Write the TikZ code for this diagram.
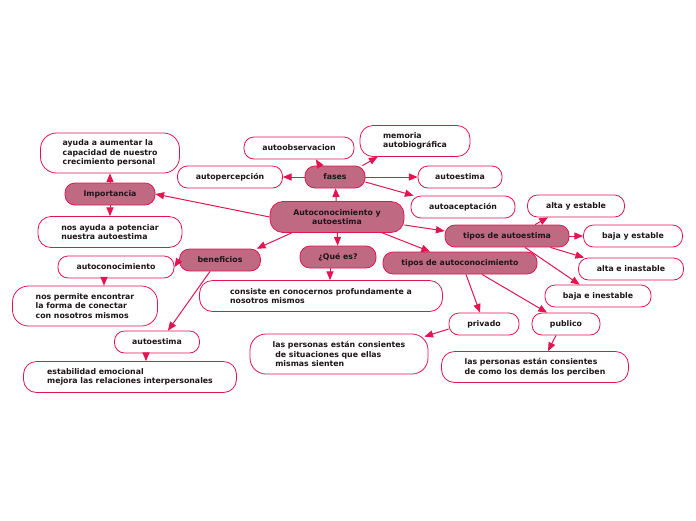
\documentclass[tikz,border=0pt]{standalone}
\usepackage{fontspec}
\setmainfont{DejaVu Sans}
\usepackage{tikz}
\usepackage{xcolor}
\usetikzlibrary{shapes,arrows,positioning}
\definecolor{edge}{RGB}{226, 20, 82}
\definecolor{mauve}{RGB}{191, 106, 130}
\definecolor{ink}{RGB}{30, 20, 25}
\tikzstyle{topic} = [
    rectangle,
    rounded corners=10pt,
    minimum height=22pt,
    text centered,
    draw=edge,
    fill=mauve,
    line width=0.8pt,
    inner sep=2pt
]
\tikzstyle{leaf} = [
    rectangle,
    rounded corners=10pt,
    minimum height=22pt,
    align=left,
    draw=edge,
    fill=white,
    line width=0.8pt,
    inner sep=2pt
]
\tikzstyle{arrow} = [
    line width=1pt,
    -triangle 45,
    draw=edge
]

\begin{document}
\begin{tikzpicture}[
        x=1pt, y=-1pt,
        every node/.style={
            font=\fontsize{7.8}{9.6}\selectfont\bfseries,
            text=ink
        }
    ]
        \useasboundingbox (0,0) rectangle (696,520);
        % centre
        \node[topic, minimum width=134pt, minimum height=31pt, rounded corners=13pt, align=center] (main) at (337,217) {Autoconocimiento y\\autoestima};
        % fases
        \node[topic, minimum width=60pt] (fases) at (335,177) {fases};
        \node[leaf, minimum width=110pt, align=center] (obs) at (299,148) {autoobservacion};
        \node[leaf, minimum width=110pt, minimum height=31pt, rounded corners=13pt] (memoria) at (415,141) {memoria\\autobiográfica};
        \node[leaf, minimum width=105pt, align=center] (percep) at (230,177) {autopercepción};
        \node[leaf, minimum width=84pt, align=center] (estima) at (460,177) {autoestima};
        \node[leaf, minimum width=104pt, align=center] (acept) at (463,207) {autoaceptación};
        % importancia
        \node[topic, minimum width=90pt] (imp) at (110,194) {Importancia};
        \node[leaf, minimum width=139pt, minimum height=40pt, rounded corners=16pt] (ayuda) at (110,153) {ayuda a aumentar la\\capacidad de nuestro\\crecimiento personal};
        \node[leaf, minimum width=144pt, minimum height=31pt, rounded corners=13pt] (potencia) at (110,232) {nos ayuda a potenciar\\nuestra autoestima};
        % beneficios
        \node[topic, minimum width=81pt] (benef) at (220,260) {beneficios};
        \node[leaf, minimum width=116pt, align=center] (conoc) at (116,267) {autoconocimiento};
        \node[leaf, minimum width=145pt, minimum height=40pt, rounded corners=16pt] (conectar) at (85,306) {nos permite encontrar\\la forma de conectar\\con nosotros mismos};
        \node[leaf, minimum width=85pt, align=center] (bestima) at (157,342) {autoestima};
        \node[leaf, minimum width=213pt, minimum height=31pt, rounded corners=13pt] (estab) at (130,377) {estabilidad emocional\\mejora las relaciones interpersonales};
        % que es
        \node[topic, minimum width=76pt] (que) at (338,257) {¿Qué es?};
        \node[leaf, minimum width=243pt, minimum height=31pt, rounded corners=13pt] (consiste) at (321,296) {consiste en conocernos profundamente a\\nosotros mismos};
        % tipos de autoestima
        \node[topic, minimum width=124pt] (tautoest) at (507,236) {tipos de autoestima};
        \node[leaf, minimum width=97pt, align=center] (altaest) at (576,206) {alta y estable};
        \node[leaf, minimum width=99pt, align=center] (bajaest) at (633,236) {baja y estable};
        \node[leaf, minimum width=105pt, align=center] (altaina) at (631,269) {alta e inastable};
        \node[leaf, minimum width=106pt, align=center] (bajaina) at (598,296) {baja e inestable};
        % tipos de autoconocimiento
        \node[topic, minimum width=154pt] (tautocon) at (460,263) {tipos de autoconocimiento};
        \node[leaf, minimum width=70pt, align=center] (privado) at (484,324) {privado};
        \node[leaf, minimum width=68pt, align=center] (publico) at (566,324) {publico};
        \node[leaf, minimum width=178pt, minimum height=40pt, rounded corners=16pt] (privtxt) at (339,354) {las personas están consientes\\\ de situaciones que ellas\\\ mismas sienten};
        \node[leaf, minimum width=187pt, minimum height=31pt, rounded corners=13pt] (pubtxt) at (535,367) {las personas están consientes\\de como los demás los perciben};

        \draw[arrow] (main.west) -- (imp.east);
        \draw[arrow] (main) -- (fases);
        \draw[arrow] ([xshift=22pt]main.south west) -- ([xshift=-4pt]benef.north east);
        \draw[arrow] (main) -- (que);
        \draw[arrow] ([xshift=-22pt]main.south east) -- ([xshift=-30pt]tautocon.north);
        \draw[arrow] ([yshift=-8pt]main.east) -- ([yshift=5pt]tautoest.west);

        \draw[arrow] ([xshift=15pt]fases.north west) -- ([xshift=17pt]obs.south);
        \draw[arrow] ([xshift=-3pt]fases.north east) -- ([xshift=18pt]memoria.south west);
        \draw[arrow] (fases) -- (percep);
        \draw[arrow] (fases) -- (estima);
        \draw[arrow] ([yshift=-5pt]fases.east) -- ([xshift=3pt]acept.north west);

        \draw[arrow] (imp) -- (ayuda);
        \draw[arrow] (imp) -- (potencia);

        \draw[arrow] (benef.west) -- (conoc.east);
        \draw[arrow] ([xshift=-10pt]benef.south) -- ([xshift=11pt]bestima.north);
        \draw[arrow] ([xshift=-12pt]conoc.south) -- ([xshift=19pt]conectar.north);
        \draw[arrow] ([xshift=-11pt]bestima.south) -- ([xshift=16pt]estab.north);

        \draw[arrow] ([xshift=-8pt]que.south) -- ([xshift=9pt]consiste.north);

        \draw[arrow] ([xshift=28pt]tautoest.north) -- ([xshift=-28pt]altaest.south);
        \draw[arrow] (tautoest) -- (bajaest);
        \draw[arrow] ([xshift=-19pt]tautoest.south east) -- ([xshift=6pt]altaina.north west);
        \draw[arrow] ([xshift=18pt]tautoest.south) -- ([xshift=35pt]bajaina.north west);

        \draw[arrow] ([xshift=6pt]tautocon.south) -- ([xshift=-4pt]privado.north);
        \draw[arrow] ([xshift=22pt]tautocon.south) -- ([xshift=-19pt]publico.north);
        \draw[arrow] ([yshift=-5pt]privado.west) -- ([xshift=-4pt,yshift=-3pt]privtxt.north east);
        \draw[arrow] ([xshift=-10pt]publico.south) -- ([xshift=13pt]pubtxt.north);
    \end{tikzpicture}
\end{document}
